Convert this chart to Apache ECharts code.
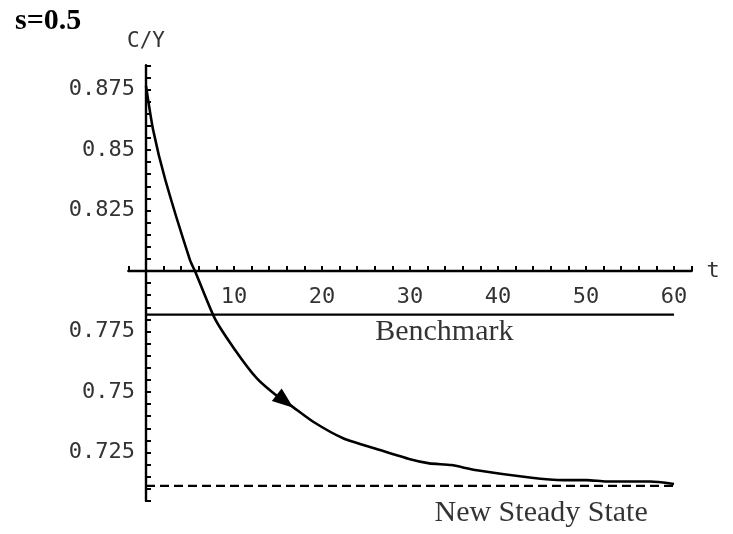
<!DOCTYPE html>
<html>
<head>
<meta charset="utf-8">
<script src="https://cdn.jsdelivr.net/npm/echarts@6/dist/echarts.min.js"></script>
<style>
  html, body { margin: 0; padding: 0; background: #fff; }
  #chart { width: 733px; height: 534px; }
</style>
</head>
<body>
<div id="chart"></div>
<script>
// values
const tVals  = [0, 0.8, 2.2, 5, 5.6, 7.8, 10, 12.6, 15, 16.4, 19, 22.4, 26.6, 30, 32.2, 34.7, 37.4, 43.6, 47.4, 50.1, 52.3, 57.3, 60];
const cyVals = [0.8765, 0.8585, 0.8376, 0.8045, 0.7997, 0.7805, 0.768, 0.7556, 0.748, 0.7446, 0.7377, 0.7309, 0.726, 0.7222, 0.7205, 0.7198, 0.7178, 0.7147, 0.7136, 0.7136, 0.713, 0.713, 0.712];
const benchmark = 0.782;
const steadyState = 0.7112;
const arrowAt = [15.8, 0.7462];
const xTickLabels = [10, 20, 30, 40, 50, 60];
const yTickLabels = [0.725, 0.75, 0.775, 0.825, 0.85, 0.875];

// axes cross at t = 0 and C/Y = 0.8 (Mathematica style)
const X_CROSS = 0, Y_CROSS = 0.8;
const xMin = -2, xMax = 62, yMin = 0.705, yMax = 0.885;
const grid = { left: 128.4, right: 41.4, top: 65.3, bottom: 33.1 };
const W = 733, H = 534;
const gridW = W - grid.left - grid.right;
const gridH = H - grid.top - grid.bottom;
// pull the axes from the grid edge in to the crossing point
const xAxisOffset = -(Y_CROSS - yMin) / (yMax - yMin) * gridH;
const yAxisOffset = -(X_CROSS - xMin) / (xMax - xMin) * gridW;

const monoFont = '"DejaVu Sans Mono", monospace';
const serifFont = '"Liberation Serif", "Times New Roman", serif';

const chart = echarts.init(document.getElementById('chart'));

const tFirst = tVals[0], tLast = tVals[tVals.length - 1];

const option = {
    backgroundColor: '#fff',
    animation: false,
    title: {
        text: 's=0.5',
        left: 10,
        top: 1,
        textStyle: { fontFamily: serifFont, fontWeight: 'bold', fontSize: 30, color: '#000' }
    },
    grid: grid,
    xAxis: {
        type: 'value',
        min: xMin,
        max: xMax,
        interval: 2,
        offset: xAxisOffset,
        name: 't',
        nameLocation: 'end',
        nameGap: 15,
        nameTextStyle: { fontFamily: monoFont, fontSize: 22, color: '#333' },
        axisLine: { onZero: false, lineStyle: { color: '#000', width: 2.4 } },
        axisTick: { inside: true, length: 5, lineStyle: { color: '#000', width: 2 } },
        axisLabel: {
            margin: 15,
            fontFamily: monoFont,
            fontSize: 22,
            color: '#333',
            formatter: v => xTickLabels.includes(v) ? String(v) : ''
        },
        splitLine: { show: false }
    },
    yAxis: {
        type: 'value',
        min: yMin,
        max: yMax,
        interval: 0.005,
        offset: yAxisOffset,
        name: 'C/Y',
        nameLocation: 'end',
        nameGap: 13,
        nameTextStyle: { fontFamily: monoFont, fontSize: 21, color: '#333', align: 'center' },
        axisLine: { onZero: false, lineStyle: { color: '#000', width: 2.4 } },
        axisTick: { inside: true, length: 5, lineStyle: { color: '#000', width: 2 } },
        axisLabel: {
            margin: 11,
            fontFamily: monoFont,
            fontSize: 22,
            color: '#333',
            formatter: v => {
                const val = +v.toFixed(3);
                return yTickLabels.includes(val) ? String(val) : '';
            }
        },
        splitLine: { show: false }
    },
    series: [
        {
            name: 'C/Y',
            type: 'line',
            data: tVals.map((t, i) => [t, cyVals[i]]),
            showSymbol: false,
            smooth: 0.2,
            lineStyle: { color: '#000', width: 2.6 },
            markPoint: {
                symbol: 'triangle',
                symbolSize: [16, 21],
                symbolRotate: -128,
                itemStyle: { color: '#000' },
                label: { show: false },
                data: [{ coord: arrowAt }]
            }
        },
        {
            name: 'Benchmark',
            type: 'line',
            data: [[tFirst, benchmark], [tLast, benchmark]],
            showSymbol: false,
            lineStyle: { color: '#000', width: 2.2 }
        },
        {
            name: 'New Steady State',
            type: 'line',
            data: [[tFirst, steadyState], [tLast, steadyState]],
            showSymbol: false,
            lineStyle: { color: '#000', width: 2.2, type: [9, 5] }
        },
        {
            name: 'labels',
            type: 'scatter',
            symbolSize: 0,
            silent: true,
            data: [
                { value: [33.9, benchmark], label: { formatter: 'Benchmark', distance: 3 } },
                { value: [44.9, steadyState], label: { formatter: 'New Steady State', distance: 12 } }
            ],
            label: {
                show: true,
                position: 'bottom',
                fontFamily: serifFont,
                fontSize: 30,
                color: '#000'
            }
        }
    ]
};

chart.setOption(option);
</script>
</body>
</html>
